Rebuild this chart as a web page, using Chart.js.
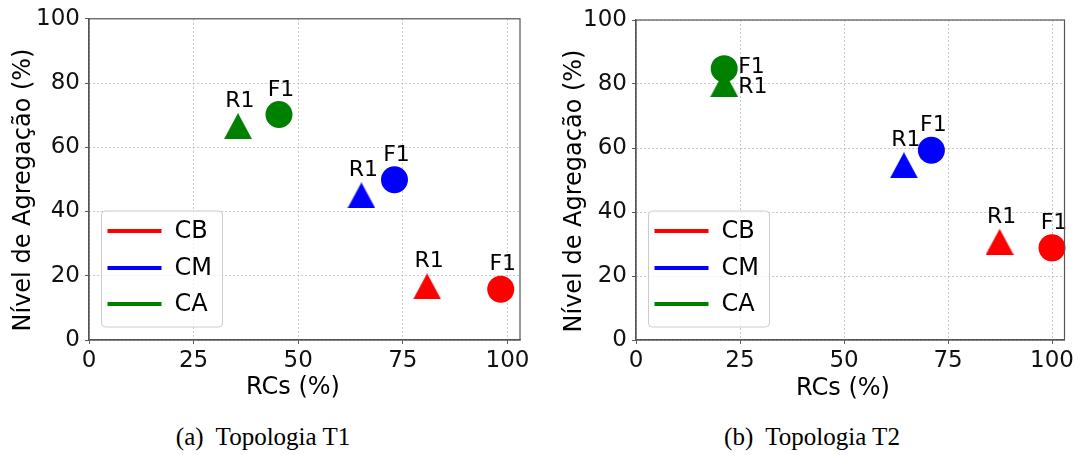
<!DOCTYPE html>
<html>
<head>
<meta charset="utf-8">
<script src="https://cdn.jsdelivr.net/npm/chart.js@4"></script>
<style>
  body { margin: 0; background: #fff; width: 1078px; height: 455px; position: relative; overflow: hidden; }
  canvas { position: absolute; top: 0; }
  .cap { position: absolute; top: 423px; font-family: "Liberation Serif", serif; font-size: 25px; line-height: 28px;
         color: #000; transform: translateX(-50%); white-space: nowrap; }
</style>
</head>
<body>
<canvas id="chartT1" width="540" height="410" style="left:0"></canvas>
<canvas id="chartT2" width="538" height="410" style="left:540px"></canvas>
<div class="cap" style="left:263px">(a)&nbsp; Topologia T1</div>
<div class="cap" style="left:812px">(b)&nbsp; Topologia T2</div>
<script>
var series = ['CB', 'CM', 'CA'];
var colors = ['#ff0000', '#0000ff', '#008000'];
var pointNames = ['R1', 'F1'];
var xTicks = [0, 25, 50, 75, 100];
var yTicks = [0, 20, 40, 60, 80, 100];

// one row per series (CB, CM, CA), columns R1, F1
var t1RCs = [[80.8, 98.4], [65.1, 73.0], [35.6, 45.4]];
var t1Agg = [[16.7, 15.8], [45.0, 49.9], [66.6, 70.2]];
var t2RCs = [[87.4, 100.0], [64.4, 71.0], [21.2, 21.2]];
var t2Agg = [[30.7, 28.8], [54.6, 59.3], [80.0, 84.8]];

var font = 'DejaVu Sans';

// matplotlib style '^' marker (centered on its bounding box)
function triangleImage(color) {
    var c = document.createElement('canvas');
    c.width = 28; c.height = 26;
    var g = c.getContext('2d');
    g.fillStyle = color;
    g.beginPath();
    g.moveTo(14, 0); g.lineTo(0, 26); g.lineTo(28, 26);
    g.closePath();
    g.fill();
    return c;
}

var figurePlugin = {
    id: 'figure',
    afterDatasetsDraw: function (chart, args, opts) {
        var ctx = chart.ctx, ca = chart.chartArea;
        // point labels
        ctx.save();
        ctx.fillStyle = '#000';
        ctx.font = '22px "' + font + '"';
        chart.data.datasets.forEach(function (ds, i) {
            var meta = chart.getDatasetMeta(i);
            meta.data.forEach(function (pt, j) {
                if (opts.sideLabels.indexOf(ds.label) >= 0) {
                    ctx.textAlign = 'left';
                    ctx.textBaseline = 'middle';
                    ctx.fillText(pointNames[j], pt.x + 14, pt.y + (j === 0 ? 3 : -1));
                } else {
                    ctx.textAlign = 'center';
                    ctx.textBaseline = 'alphabetic';
                    ctx.fillText(pointNames[j], pt.x + 2, pt.y - 19);
                }
            });
        });
        ctx.restore();
        // full frame round the axes
        ctx.save();
        ctx.strokeStyle = '#555';
        ctx.lineWidth = 1.2;
        ctx.strokeRect(ca.left, ca.top, ca.right - ca.left, ca.bottom - ca.top);
        ctx.restore();
    },
    afterDraw: function (chart, args, opts) {
        var ctx = chart.ctx, ca = chart.chartArea;
        // legend in lower left corner
        var w = 121, h = 116;
        var left = ca.left + 12.5, top = ca.bottom - 13 - h;
        ctx.save();
        ctx.beginPath();
        ctx.roundRect(left, top, w, h, 4);
        ctx.fillStyle = 'rgba(255,255,255,0.8)';
        ctx.fill();
        ctx.strokeStyle = '#cccccc';
        ctx.lineWidth = 1;
        ctx.stroke();
        var rows = [20, 57, 93];
        ctx.font = '24px "' + font + '"';
        ctx.textAlign = 'left';
        ctx.textBaseline = 'middle';
        chart.data.datasets.forEach(function (ds, i) {
            var y = top + rows[i];
            ctx.strokeStyle = ds.backgroundColor;
            ctx.lineWidth = 4;
            ctx.beginPath();
            ctx.moveTo(left + 6, y);
            ctx.lineTo(left + 60, y);
            ctx.stroke();
            ctx.fillStyle = '#000';
            ctx.fillText(ds.label, left + 73, y + 1);
        });
        // axis titles
        ctx.font = '24px "' + font + '"';
        ctx.textAlign = 'center';
        ctx.fillText('RCs (%)', opts.xTitle[0], opts.xTitle[1]);
        ctx.translate(opts.yTitle[0], opts.yTitle[1]);
        ctx.rotate(-Math.PI / 2);
        ctx.fillText('Nível de Agregação (%)', 0, 0);
        ctx.restore();
    }
};

function makeChart(id, rcs, agg, layout) {
    var datasets = series.map(function (s, i) {
        return {
            label: s,
            data: rcs[i].map(function (x, j) { return { x: x, y: agg[i][j] }; }),
            pointStyle: [triangleImage(colors[i]), 'circle'],
            pointRadius: 13.5,
            backgroundColor: colors[i],
            borderColor: colors[i],
            borderWidth: 0,
            clip: false
        };
    });
    var tickFont = { family: font, size: 23 };
    return new Chart(document.getElementById(id), {
        type: 'scatter',
        data: { datasets: datasets },
        options: {
            responsive: false,
            animation: false,
            events: [],
            layout: { padding: { left: 0, top: layout.top, right: layout.right, bottom: 0 } },
            plugins: {
                legend: { display: false },
                tooltip: { enabled: false },
                figure: { sideLabels: layout.sideLabels, xTitle: layout.xTitle, yTitle: layout.yTitle }
            },
            scales: {
                x: {
                    min: 0, max: 103,
                    afterBuildTicks: function (axis) { axis.ticks = xTicks.map(function (v) { return { value: v }; }); },
                    afterFit: function (axis) { axis.height = 70; },
                    ticks: { font: tickFont, color: '#111', padding: 3, maxRotation: 0 },
                    grid: { color: '#b9b9b9', lineWidth: 0.8, tickColor: '#333', tickLength: 4 },
                    border: { color: '#555', width: 1.2, dash: [2, 2] }
                },
                y: {
                    min: 0, max: 100,
                    afterBuildTicks: function (axis) { axis.ticks = yTicks.map(function (v) { return { value: v }; }); },
                    afterFit: function (axis) { axis.width = layout.yWidth; },
                    ticks: { font: tickFont, color: '#111', padding: 5 },
                    grid: { color: '#b9b9b9', lineWidth: 0.8, tickColor: '#333', tickLength: 4 },
                    border: { color: '#555', width: 1.2, dash: [2, 2] }
                }
            }
        },
        plugins: [figurePlugin]
    });
}

makeChart('chartT1', t1RCs, t1Agg, { top: 18, right: 20, yWidth: 89, sideLabels: [], xTitle: [293, 388], yTitle: [24, 190] });
makeChart('chartT2', t2RCs, t2Agg, { top: 20, right: 11, yWidth: 96, sideLabels: ['CA'], xTitle: [303, 389], yTitle: [35, 191] });
</script>
</body>
</html>
